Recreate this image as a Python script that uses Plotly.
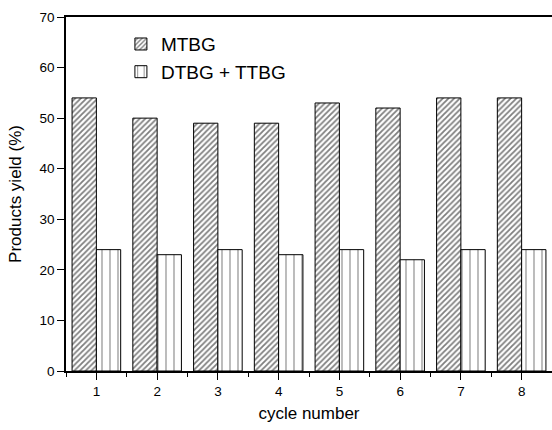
import plotly.graph_objects as go

cycles = [1, 2, 3, 4, 5, 6, 7, 8]
mtbg = [54, 50, 49, 49, 53, 52, 54, 54]
dtbg_ttbg = [24, 23, 24, 23, 24, 22, 24, 24]

fig = go.Figure()
fig.add_trace(go.Bar(
    x=cycles, y=mtbg, name="MTBG",
    marker=dict(color="white", line=dict(color="black", width=1),
                pattern=dict(shape="/", fgcolor="black", bgcolor="white", size=4, solidity=0.45)),
))
fig.add_trace(go.Bar(
    x=cycles, y=dtbg_ttbg, name="DTBG + TTBG",
    marker=dict(color="white", line=dict(color="black", width=1),
                pattern=dict(shape="|", fgcolor="black", bgcolor="white", size=8, solidity=0.13)),
))

font = "Liberation Sans, Arial, sans-serif"
fig.update_layout(
    width=552, height=430,
    margin=dict(l=66, r=0, t=17, b=59),
    plot_bgcolor="white", paper_bgcolor="white",
    barmode="group", bargap=0.2, bargroupgap=0,
    font=dict(family=font, size=13, color="black"),
    showlegend=True,
    legend=dict(x=0.113, y=0.977, xanchor="left", yanchor="top",
                font=dict(size=19, family=font), bgcolor="rgba(0,0,0,0)",
                tracegroupgap=0, itemwidth=30),
    xaxis=dict(
        range=[0.5, 8.5], tickmode="array", tickvals=cycles,
        ticks="outside", ticklen=7, tickwidth=1, tickcolor="black",
        showline=True, linecolor="black", linewidth=1.5, mirror=False,
        showgrid=False, zeroline=False,
        minor=dict(dtick=0.5, tick0=0.5, ticks="outside", ticklen=4, tickcolor="black", showgrid=False),
        title=dict(text="cycle number", font=dict(size=17), standoff=9),
        tickfont=dict(size=13.5),
    ),
    yaxis=dict(
        range=[0, 70], dtick=10, ticks="outside", ticklen=7, tickwidth=1, tickcolor="black",
        showline=True, linecolor="black", linewidth=1.5,
        showgrid=False, zeroline=False,
        title=dict(text="Products yield (%)", font=dict(size=17), standoff=14),
        tickfont=dict(size=13.5),
    ),
    xaxis2=dict(
        overlaying="x", side="top", anchor="y", range=[0.5, 8.5],
        ticks="", showticklabels=False, showline=True, linecolor="black", linewidth=1.5,
        showgrid=False, zeroline=False,
    ),
)
# invisible trace so the top axis line is drawn
fig.add_trace(go.Scatter(x=[cycles[0]], y=[0], xaxis="x2", mode="markers",
                         marker=dict(opacity=0), showlegend=False, hoverinfo="skip"))
fig.write_html("out.html")
